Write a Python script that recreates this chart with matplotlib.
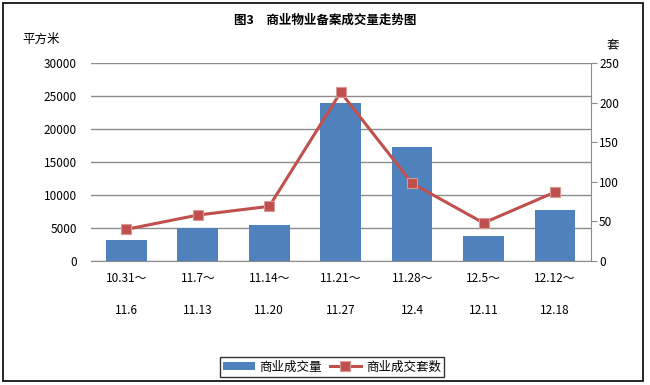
import matplotlib
matplotlib.use('Agg')
import matplotlib.pyplot as plt
from matplotlib.patches import Rectangle

plt.rcParams['font.family'] = ['Noto Sans CJK SC', 'DejaVu Sans']

# данные
periods_start = ['10.31～', '11.7～', '11.14～', '11.21～', '11.28～', '12.5～', '12.12～']
periods_end = ['11.6', '11.13', '11.20', '11.27', '12.4', '12.11', '12.18']
area = [3200, 5000, 5500, 24000, 17200, 3850, 7750]
units = [40, 58, 69, 213, 98, 48, 87]

labels = [s + '\n\n' + e for s, e in zip(periods_start, periods_end)]
x = list(range(len(labels)))

fig = plt.figure(figsize=(6.5, 3.85), dpi=100)
ax = fig.add_axes([0.1395, 0.3221, 0.9088 - 0.1395, 0.8364 - 0.3221])
ax2 = ax.twinx()

bars = ax.bar(x, area, width=0.57, color='#4F81BD', zorder=2, label='商业成交量')
ax.set_ylim(0, 30000)
ax.set_yticks(range(0, 30001, 5000))
ax.set_xlim(-0.5, 6.5)
ax.set_xticks(x)
ax.set_xticklabels(labels, fontsize=8.5, linespacing=1.3)
ax.tick_params(axis='x', length=0, pad=8)
ax.tick_params(axis='y', length=0, labelsize=8.5, pad=10)
ax.grid(axis='y', color='#8C8C8C', lw=1, zorder=0)
ax.set_axisbelow(True)
for s in ['top', 'left', 'right']:
    ax.spines[s].set_visible(False)
ax.spines['bottom'].set_color('#8C8C8C')

line, = ax2.plot(x, units, color='#C0504D', lw=2.2, marker='s', markersize=7,
                 markerfacecolor='#C0504D', markeredgecolor='#D99795', markeredgewidth=0.8,
                 label='商业成交套数', zorder=3)
ax2.set_ylim(0, 250)
ax2.set_yticks(range(0, 251, 50))
ax2.tick_params(axis='y', length=4, color='#8C8C8C', labelsize=8.5, pad=2)
for s in ['top', 'left', 'bottom']:
    ax2.spines[s].set_visible(False)
ax2.spines['right'].set_color('#8C8C8C')

fig.text(0.5, 0.948, '图3　商业物业备案成交量走势图', ha='center', va='center',
         fontsize=9, fontweight='bold')
fig.text(0.035, 0.897, '平方米', ha='left', va='center', fontsize=9)
fig.text(0.943, 0.883, '套', ha='center', va='center', fontsize=9)

leg = fig.legend([bars, line], ['商业成交量', '商业成交套数'], loc='center',
                 bbox_to_anchor=(0.511, 0.047), ncol=2, fontsize=9, frameon=True,
                 fancybox=False, edgecolor='black', handlelength=2.5,
                 columnspacing=0.6, handletextpad=0.4, borderpad=0.25)
leg.get_frame().set_linewidth(1)

fig.patches.append(Rectangle((3 / 650, 4 / 385), 640 / 650, 378 / 385,
                             transform=fig.transFigure, fill=False,
                             edgecolor='black', lw=1.2))

plt.savefig('out.png', dpi=100)
